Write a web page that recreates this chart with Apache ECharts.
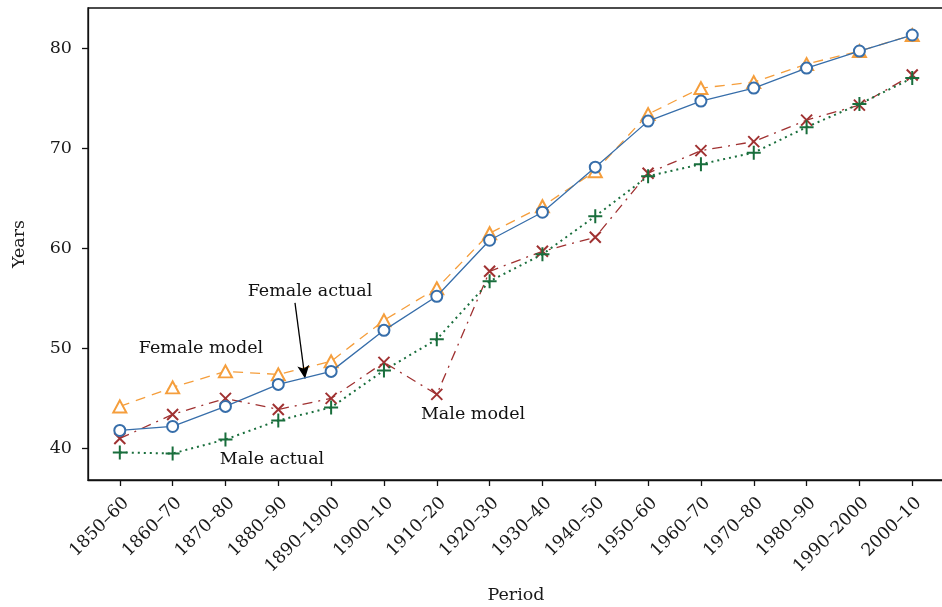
<!DOCTYPE html>
<html>
<head>
<meta charset="utf-8">
<script src="https://cdn.jsdelivr.net/npm/echarts@6/dist/echarts.min.js"></script>
<style>html,body{margin:0;padding:0;background:#fff;}#c{width:942px;height:607px;}</style>
</head>
<body>
<div id="c"></div>
<script>
const periods = ['1850–60','1860–70','1870–80','1880–90','1890–1900','1900–10','1910–20','1920–30','1930–40','1940–50','1950–60','1960–70','1970–80','1980–90','1990–2000','2000–10'];
const femaleActual = [41.8,42.2,44.2,46.4,47.7,51.8,55.2,60.8,63.6,68.1,72.7,74.7,76.0,78.0,79.7,81.3];
const femaleModel  = [44.2,46.1,47.7,47.4,48.7,52.8,56.0,61.5,64.2,67.7,73.4,76.0,76.6,78.4,79.7,81.3];
const maleModel    = [41.0,43.4,45.0,43.9,45.0,48.6,45.4,57.7,59.7,61.1,67.5,69.75,70.65,72.8,74.3,77.3];
const maleActual   = [39.6,39.5,40.9,42.8,44.1,47.8,50.9,56.7,59.4,63.2,67.2,68.4,69.55,72.1,74.4,77.0];
const yTicks = [40,50,60,70,80];
// annotations in data coordinates [periodIndex, years]
const annotations = [
  {text:'Female model', at:[1.537,50.04]},
  {text:'Female actual', at:[3.6,55.73]},
  {text:'Male model', at:[6.686,43.35]},
  {text:'Male actual', at:[2.88,38.95]}
];
const arrowFrom = [3.316,54.54], arrowTo = [3.506,46.99];

const FONT = 'DejaVu Serif';
const FS = 17.5;
const pairs = arr => arr.map((v,i)=>[i,v]);
const xIdx = periods.map((_,i)=>i);
const crossPath = 'path://M0,0L10,10M10,0L0,10';
const plusPath = 'path://M5,0L5,10M0,5L10,5';

const chart = echarts.init(document.getElementById('c'), null, {renderer:'canvas'});
chart.setOption({
  animation:false,
  backgroundColor:'#fff',
  grid:{left:88, top:8, right:-2, bottom:127, show:true, borderColor:'#111', borderWidth:1.3,
        containLabel:false, outerBoundsMode:'none'},
  xAxis:{
    type:'value', min:-0.602, max:15.601,
    name:'Period', nameLocation:'middle', nameGap:106, nameMoveOverlap:false,
    nameTextStyle:{fontFamily:FONT, fontSize:FS, color:'#1a1a1a'},
    axisLine:{show:true, onZero:false, lineStyle:{color:'#111', width:1.3}},
    axisTick:{show:true, length:6, lineStyle:{color:'#111', width:1.3}, customValues:xIdx},
    axisLabel:{rotate:45, margin:14, verticalAlign:'top', fontFamily:FONT, fontSize:FS, color:'#1a1a1a', customValues:xIdx,
      formatter:v=>periods[Math.round(v)]||''},
    splitLine:{show:false}
  },
  yAxis:{
    type:'value', min:36.85, max:84.0,
    name:'Years', nameLocation:'middle', nameGap:60, nameRotate:90, nameMoveOverlap:false,
    nameTextStyle:{fontFamily:FONT, fontSize:FS, color:'#1a1a1a'},
    axisLine:{show:true, onZero:false, lineStyle:{color:'#111', width:1.3}},
    axisTick:{show:true, length:6, lineStyle:{color:'#111', width:1.3}, customValues:yTicks},
    axisLabel:{margin:16, fontFamily:FONT, fontSize:FS, color:'#1a1a1a', customValues:yTicks},
    splitLine:{show:false}
  },
  series:[
    {name:'Female model', type:'line', data:pairs(femaleModel), z:3,
     symbol:'emptyTriangle', symbolSize:[13,12],
     itemStyle:{color:'#F59E3C', borderColor:'#F59E3C', borderWidth:1.6},
     lineStyle:{color:'#F59E3C', width:1.3, type:[10,7]}},
    {name:'Male model', type:'line', data:pairs(maleModel), z:3,
     symbol:crossPath, symbolSize:11,
     itemStyle:{color:'#A03232', borderColor:'#A03232', borderWidth:2},
     lineStyle:{color:'#A03232', width:1.3, type:[10,6,2,6]}},
    {name:'Male actual', type:'line', data:pairs(maleActual), z:4,
     symbol:plusPath, symbolSize:14,
     itemStyle:{color:'#196E3C', borderColor:'#196E3C', borderWidth:2},
     lineStyle:{color:'#196E3C', width:2, type:[2,4]},
     markLine:{silent:true, symbol:['none','arrow'], symbolSize:[9,13], label:{show:false},
       lineStyle:{color:'#000', width:1.3, type:'solid'},
       data:[[{coord:arrowFrom},{coord:arrowTo}]]}},
    {name:'Female actual', type:'line', data:pairs(femaleActual), z:5,
     symbol:'emptyCircle', symbolSize:11,
     itemStyle:{color:'#376EAA', borderColor:'#376EAA', borderWidth:1.6},
     lineStyle:{color:'#376EAA', width:1.3, type:'solid'}}
  ]
});

const g = annotations.map(a=>{
  const p = chart.convertToPixel({gridIndex:0}, a.at);
  return {type:'text', x:p[0], y:p[1], z:100,
    style:{text:a.text, font:FS+'px "'+FONT+'"', fill:'#111', align:'center', verticalAlign:'middle'}};
});
chart.setOption({graphic:g});
</script>
</body>
</html>
